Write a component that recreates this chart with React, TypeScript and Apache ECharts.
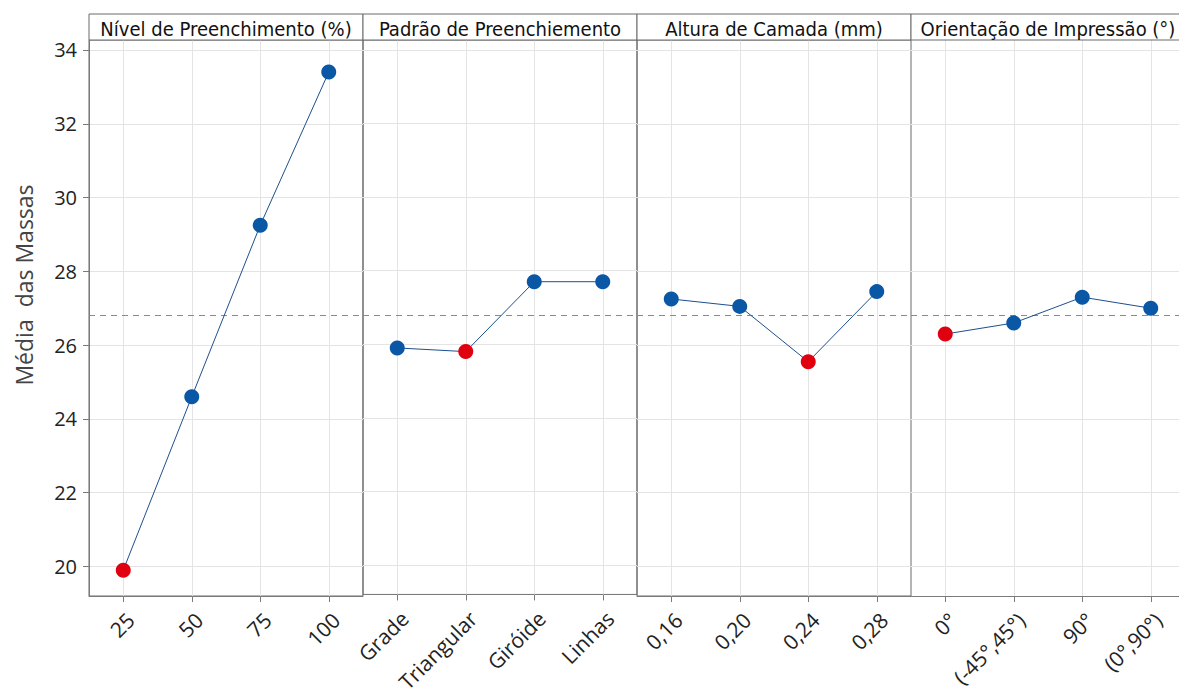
import React, { useEffect, useRef } from "react";
import * as echarts from "echarts";

const panelTitles = [
  "Nível de Preenchimento (%)",
  "Padrão de Preenchiemento",
  "Altura de Camada (mm)",
  "Orientação de Impressão (°)",
];
const yAxisTitle = "Média  das Massas";
const nivelCats = ["25", "50", "75", "100"];
const nivelVals = [19.9, 24.6, 29.25, 33.4];
const padraoCats = ["Grade", "Triangular", "Giróide", "Linhas"];
const padraoVals = [25.9, 25.8, 27.7, 27.7];
const alturaCats = ["0,16", "0,20", "0,24", "0,28"];
const alturaVals = [27.25, 27.05, 25.55, 27.45];
const orientCats = ["0°", "(-45°,45°)", "90°", "(0°,90°)"];
const orientVals = [26.3, 26.6, 27.3, 27.0];
const yTicks = [20, 22, 24, 26, 28, 30, 32, 34];

const panels = [
  { cats: nivelCats, vals: nivelVals },
  { cats: padraoCats, vals: padraoVals },
  { cats: alturaCats, vals: alturaVals },
  { cats: orientCats, vals: orientVals },
];

const W = 1250;
const H = 695;
const LEFT = 89;
const PW = 274;
const TOP = 40;
const BOTTOM = 596;
const HEAD_TOP = 14;
const BLUE = "#0a57a6";
const RED = "#e00010";
const LINE = "#1d4f8f";
const HEAD_FONT = "'DejaVu Sans Condensed', 'Liberation Sans Narrow', sans-serif";
const BODY_FONT = "'Open Sans', 'Noto Sans', sans-serif";

export default function App() {
  const ref = useRef<HTMLDivElement>(null);
  useEffect(() => {
    document.body.style.margin = "0";
    document.documentElement.style.overflow = "hidden";
    const chart = echarts.init(ref.current!, undefined, { renderer: "svg" });
    const all = panels.flatMap((p) => p.vals);
    const grandMean = all.reduce((a, b) => a + b, 0) / all.length;
    const grids = panels.map((_, i) => ({
      left: LEFT + i * PW,
      width: PW,
      top: TOP,
      height: BOTTOM - TOP,
      show: i < 3,
      borderColor: "#6a6a6a",
      borderWidth: 1,
      backgroundColor: "transparent",
    }));
    const xAxes = panels.map((p, i) => ({
      type: "category",
      gridIndex: i,
      data: p.cats,
      boundaryGap: true,
      axisLine: { show: true, lineStyle: { color: "#7a7a7a" } },
      axisTick: { show: true, alignWithLabel: true, length: 6, lineStyle: { color: "#7a7a7a" } },
      axisLabel: {
        rotate: 45,
        fontSize: 21,
        color: "#222",
        fontFamily: BODY_FONT,
        margin: 13,
        verticalAlign: "top",
        interval: 0,
      },
      splitLine: { show: false },
    }));
    const yAxes = panels.map((_, i) => ({
      type: "value",
      gridIndex: i,
      min: 19.2,
      max: 34.27,
      axisLine: { show: i === 0, lineStyle: { color: "#7a7a7a" } },
      axisTick: {
        show: i === 0,
        length: 6,
        lineStyle: { color: "#7a7a7a" },
        customValues: yTicks,
      },
      axisLabel: {
        show: i === 0,
        fontSize: 20,
        color: "#222",
        fontFamily: BODY_FONT,
        margin: 12,
        customValues: yTicks,
      },
      splitLine: { show: true, lineStyle: { color: "#e4e4e4", width: 1 } },
    }));
    const series: any[] = [];
    panels.forEach((p, i) => {
      series.push({
        type: "line",
        xAxisIndex: i,
        yAxisIndex: i,
        data: [],
        z: 1,
        silent: true,
        markLine: {
          silent: true,
          symbol: "none",
          label: { show: false },
          lineStyle: { color: "#e4e4e4", type: "solid", width: 1 },
          data: p.cats.map((c) => ({ xAxis: c })),
        },
      });
      series.push({
        type: "line",
        xAxisIndex: i,
        yAxisIndex: i,
        z: 2,
        silent: true,
        data: [],
        markLine: {
          silent: true,
          symbol: "none",
          label: { show: false },
          lineStyle: { color: "#8a8a8a", type: [6, 5], width: 1 },
          data: [{ yAxis: grandMean }],
        },
      });
      const minV = Math.min(...p.vals);
      series.push({
        type: "line",
        xAxisIndex: i,
        yAxisIndex: i,
        z: 5,
        symbol: "circle",
        symbolSize: 15,
        lineStyle: { color: LINE, width: 1 },
        data: p.vals.map((v) => ({
          value: v,
          itemStyle: { color: v === minV ? RED : BLUE },
        })),
      });
    });
    const graphic: any[] = [
      {
        type: "text",
        x: 24,
        y: 285,
        rotation: Math.PI / 2,
        style: {
          text: yAxisTitle,
          fill: "#444",
          fontSize: 23,
          fontFamily: BODY_FONT,
          align: "center",
          verticalAlign: "middle",
        },
      },
    ];
    panelTitles.forEach((t, i) => {
      graphic.push({
        type: "rect",
        shape: { x: LEFT + i * PW, y: HEAD_TOP, width: PW, height: TOP - HEAD_TOP },
        style: { fill: "#fff", stroke: "#6a6a6a", lineWidth: 1 },
        z: 10,
      });
      graphic.push({
        type: "text",
        x: LEFT + i * PW + PW / 2,
        y: TOP - 1,
        style: {
          text: t,
          fill: "#111",
          fontSize: 20,
          fontFamily: HEAD_FONT,
          align: "center",
          verticalAlign: "bottom",
        },
        z: 11,
      });
    });
    chart.setOption({
      animation: false,
      backgroundColor: "#fff",
      grid: grids,
      xAxis: xAxes,
      yAxis: yAxes,
      series,
      graphic,
    });
    return () => chart.dispose();
  }, []);
  return <div ref={ref} style={{ width: W, height: H }} />;
}
